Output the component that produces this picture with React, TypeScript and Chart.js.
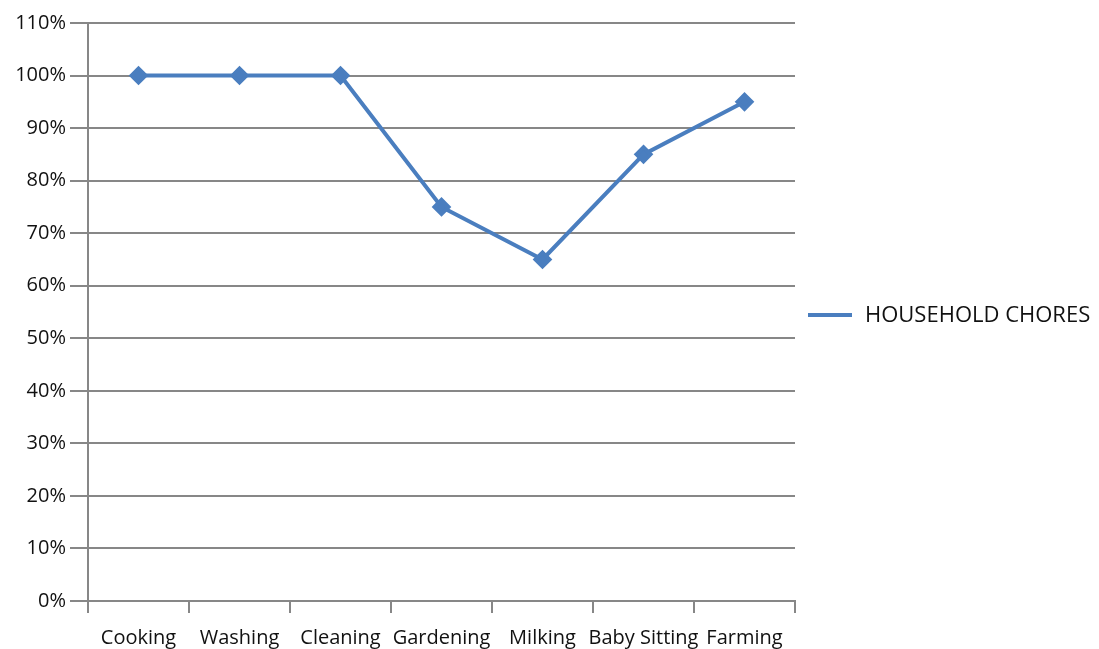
import React, { useEffect, useRef } from "react";
import { Chart, registerables } from "chart.js";

Chart.register(...registerables);

const categories = ["Cooking", "Washing", "Cleaning", "Gardening", "Milking", "Baby Sitting", "Farming"];
const seriesName = "HOUSEHOLD CHORES";
const seriesValues = [1.0, 1.0, 1.0, 0.75, 0.65, 0.85, 0.95];
const yMax = 1.1;
const yStep = 0.1;

const LINE_COLOR = "#4a7ebf";
const GRID_COLOR = "#878787";
const FONT = "'Open Sans', sans-serif";

const legendPlugin = {
  id: "customLegend",
  afterDraw(chart: any) {
    const { ctx, chartArea } = chart;
    const y = (chartArea.top + chartArea.bottom) / 2 + 3;
    const x0 = chartArea.right + 13;
    ctx.save();
    ctx.strokeStyle = LINE_COLOR;
    ctx.lineWidth = 4;
    ctx.beginPath();
    ctx.moveTo(x0, y);
    ctx.lineTo(x0 + 44, y);
    ctx.stroke();
    ctx.fillStyle = "#111";
    ctx.font = `22px ${FONT}`;
    ctx.textBaseline = "middle";
    ctx.textAlign = "left";
    ctx.fillText(chart.data.datasets[0].label, x0 + 57, y + 1);
    ctx.restore();
  },
};

export default function App() {
  const ref = useRef<HTMLCanvasElement>(null);
  useEffect(() => {
    const chart = new Chart(ref.current!, {
      type: "line",
      data: {
        labels: categories,
        datasets: [
          {
            label: seriesName,
            data: seriesValues,
            borderColor: LINE_COLOR,
            backgroundColor: LINE_COLOR,
            borderWidth: 4,
            pointStyle: "rectRot",
            pointRadius: 7,
            pointHoverRadius: 7,
            tension: 0,
          },
        ],
      },
      options: {
        animation: false,
        responsive: false,
        events: [],
        layout: { padding: { left: 0, top: 23, right: 304, bottom: 0 } },
        plugins: { legend: { display: false }, tooltip: { enabled: false } },
        scales: {
          x: {
            offset: true,
            grid: {
              offset: true,
              drawOnChartArea: false,
              drawTicks: true,
              tickLength: 12,
              color: GRID_COLOR,
              lineWidth: 2,
            },
            border: { color: GRID_COLOR, width: 2 },
            ticks: {
              color: "#111",
              font: { family: FONT, size: 20 },
              padding: 13,
              maxRotation: 0,
              autoSkip: false,
            },
            afterFit(scale: any) {
              scale.height = 48;
            },
          },
          y: {
            min: 0,
            max: yMax,
            grid: {
              color: GRID_COLOR,
              lineWidth: 2,
              tickLength: 18,
            },
            border: { color: GRID_COLOR, width: 2 },
            ticks: {
              stepSize: yStep,
              color: "#111",
              font: { family: FONT, size: 20 },
              padding: 4,
              callback: (v: any) => `${Math.round(Number(v) * 100)}%`,
            },
            afterFit(scale: any) {
              scale.width = 88;
            },
          },
        },
      },
      plugins: [legendPlugin],
    });
    return () => chart.destroy();
  }, []);
  return (
    <div style={{ position: "fixed", left: 0, top: 0, width: 1099, height: 649, background: "#fff" }}>
      <canvas ref={ref} width={1099} height={649} style={{ width: 1099, height: 649 }} />
    </div>
  );
}
